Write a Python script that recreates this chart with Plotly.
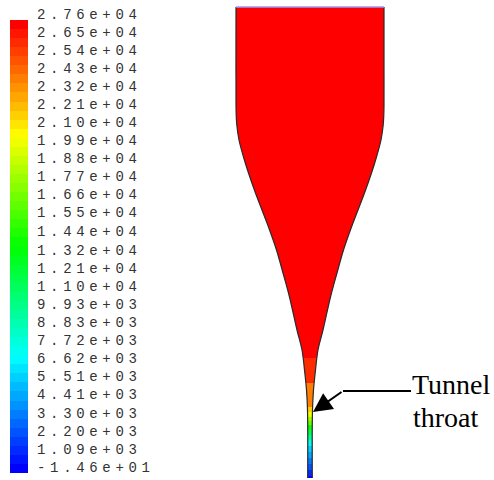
import colorsys

import plotly.graph_objects as go

# ---- legend: contour levels of the field -------------------------------
level_labels = [
    "2.76e+04", "2.65e+04", "2.54e+04", "2.43e+04", "2.32e+04", "2.21e+04",
    "2.10e+04", "1.99e+04", "1.88e+04", "1.77e+04", "1.66e+04", "1.55e+04",
    "1.44e+04", "1.32e+04", "1.21e+04", "1.10e+04", "9.93e+03", "8.83e+03",
    "7.72e+03", "6.62e+03", "5.51e+03", "4.41e+03", "3.30e+03", "2.20e+03",
    "1.09e+03", "-1.46e+01",
]
n_bands = 50
v_min, v_max = -14.6, 27600.0

# ---- nozzle wall: height above the outlet and half-width ----------------
wall_height = [471, 373, 363, 353, 338, 321, 305, 285, 268, 251, 228, 205,
               181, 148, 128, 108, 88, 68, 0]
wall_halfwidth = [74, 74, 73.8, 73.2, 71, 66.5, 61.5, 54.5, 48, 41.5, 33.5,
                  27, 20.5, 13, 8, 5.5, 3.5, 2.5, 2.3]

# ---- field along the axis: contour bands (edges from outlet upward) -----
band_edges = [0, 2, 8, 14, 20, 26, 32, 38, 43, 48, 53, 57, 61, 66, 71, 95,
              120, 471]
band_values = [260, 1370, 2470, 3580, 4680, 5780, 7440, 9650, 11900, 14100,
               16300, 17900, 20100, 21800, 24000, 26200, 27300]

# discrete rainbow colormap, blue -> cyan -> green -> yellow -> red
colorscale = []
for k in range(n_bands):
    r, g, b = colorsys.hsv_to_rgb((240.0 * (1 - k / (n_bands - 1))) / 360.0, 1, 1)
    c = f"rgb({round(r * 255)},{round(g * 255)},{round(b * 255)})"
    colorscale.append([k / n_bands, c])
    colorscale.append([(k + 1) / n_bands, c])

# colour bar geometry (paper fractions)
W, H = 494, 480
bar_top, bar_bottom = 1 - 20 / H, 1 - 473 / H


def spaced(s):
    return "\u2004".join(s)


fig = go.Figure()

fig.add_trace(go.Heatmap(
    x=[-80, 80],
    y=band_edges,
    z=[[v] for v in band_values],
    zmin=v_min, zmax=v_max,
    colorscale=colorscale,
    hoverinfo="skip",
    colorbar=dict(
        x=10 / W, xanchor="left", xpad=0,
        y=bar_top, yanchor="top", ypad=0,
        len=bar_top - bar_bottom, lenmode="fraction",
        thickness=18, thicknessmode="pixels",
        outlinewidth=0, ticks="", showticklabels=False,
    ),
))

# level labels sit just above their band boundary
label_font = dict(family="Liberation Mono", size=14, color="#333333")
for s in level_labels:
    v = float(s)
    fig.add_annotation(
        xref="paper", yref="paper",
        x=35 / W, y=bar_bottom + (v - v_min) / (v_max - v_min) * (bar_top - bar_bottom),
        yshift=5, text=spaced(s), showarrow=False,
        xanchor="left", yanchor="middle", font=label_font,
    )

# white masks outside the wall, then the wall outline
for side in (-1, 1):
    mx = [side * 120, side * wall_halfwidth[0]] + [side * w for w in wall_halfwidth] \
        + [side * wall_halfwidth[-1], side * 120]
    my = [490, 490] + wall_height + [-10, -10]
    fig.add_trace(go.Scatter(
        x=mx, y=my, mode="lines", fill="toself", fillcolor="white",
        line=dict(width=0, shape="spline", color="white"),
        hoverinfo="skip", showlegend=False,
    ))
for side in (-1, 1):
    fig.add_trace(go.Scatter(
        x=[side * w for w in wall_halfwidth], y=wall_height, mode="lines",
        line=dict(width=1.2, shape="spline", color="#2a2a2a"),
        hoverinfo="skip", showlegend=False,
    ))
fig.add_trace(go.Scatter(
    x=[-wall_halfwidth[0], wall_halfwidth[0]], y=[wall_height[0]] * 2,
    mode="lines", line=dict(width=1.5, color="#9a9aff"),
    hoverinfo="skip", showlegend=False,
))

# throat callout
fig.add_shape(type="line", x0=33, y0=87, x1=101, y1=87,
              line=dict(color="black", width=2))
fig.add_annotation(x=3, y=66, ax=30, ay=-21, text="", showarrow=True,
                   arrowhead=2, arrowsize=1.9, arrowwidth=2, arrowcolor="black")
serif = dict(family="Liberation Serif", size=28, color="black")
fig.add_annotation(x=100, y=94, text="Tunnel", showarrow=False,
                   xanchor="left", yanchor="middle", font=serif)
fig.add_annotation(x=101, y=61, text="throat", showarrow=False,
                   xanchor="left", yanchor="middle", font=serif)

fig.update_xaxes(range=[-310, 184], visible=False, showgrid=False, zeroline=False)
fig.update_yaxes(range=[-2, 478], visible=False, showgrid=False, zeroline=False)
fig.update_layout(
    width=W, height=H,
    margin=dict(l=0, r=0, t=0, b=0, autoexpand=False),
    paper_bgcolor="white", plot_bgcolor="white",
    showlegend=False,
)

fig.write_html("out.html")
